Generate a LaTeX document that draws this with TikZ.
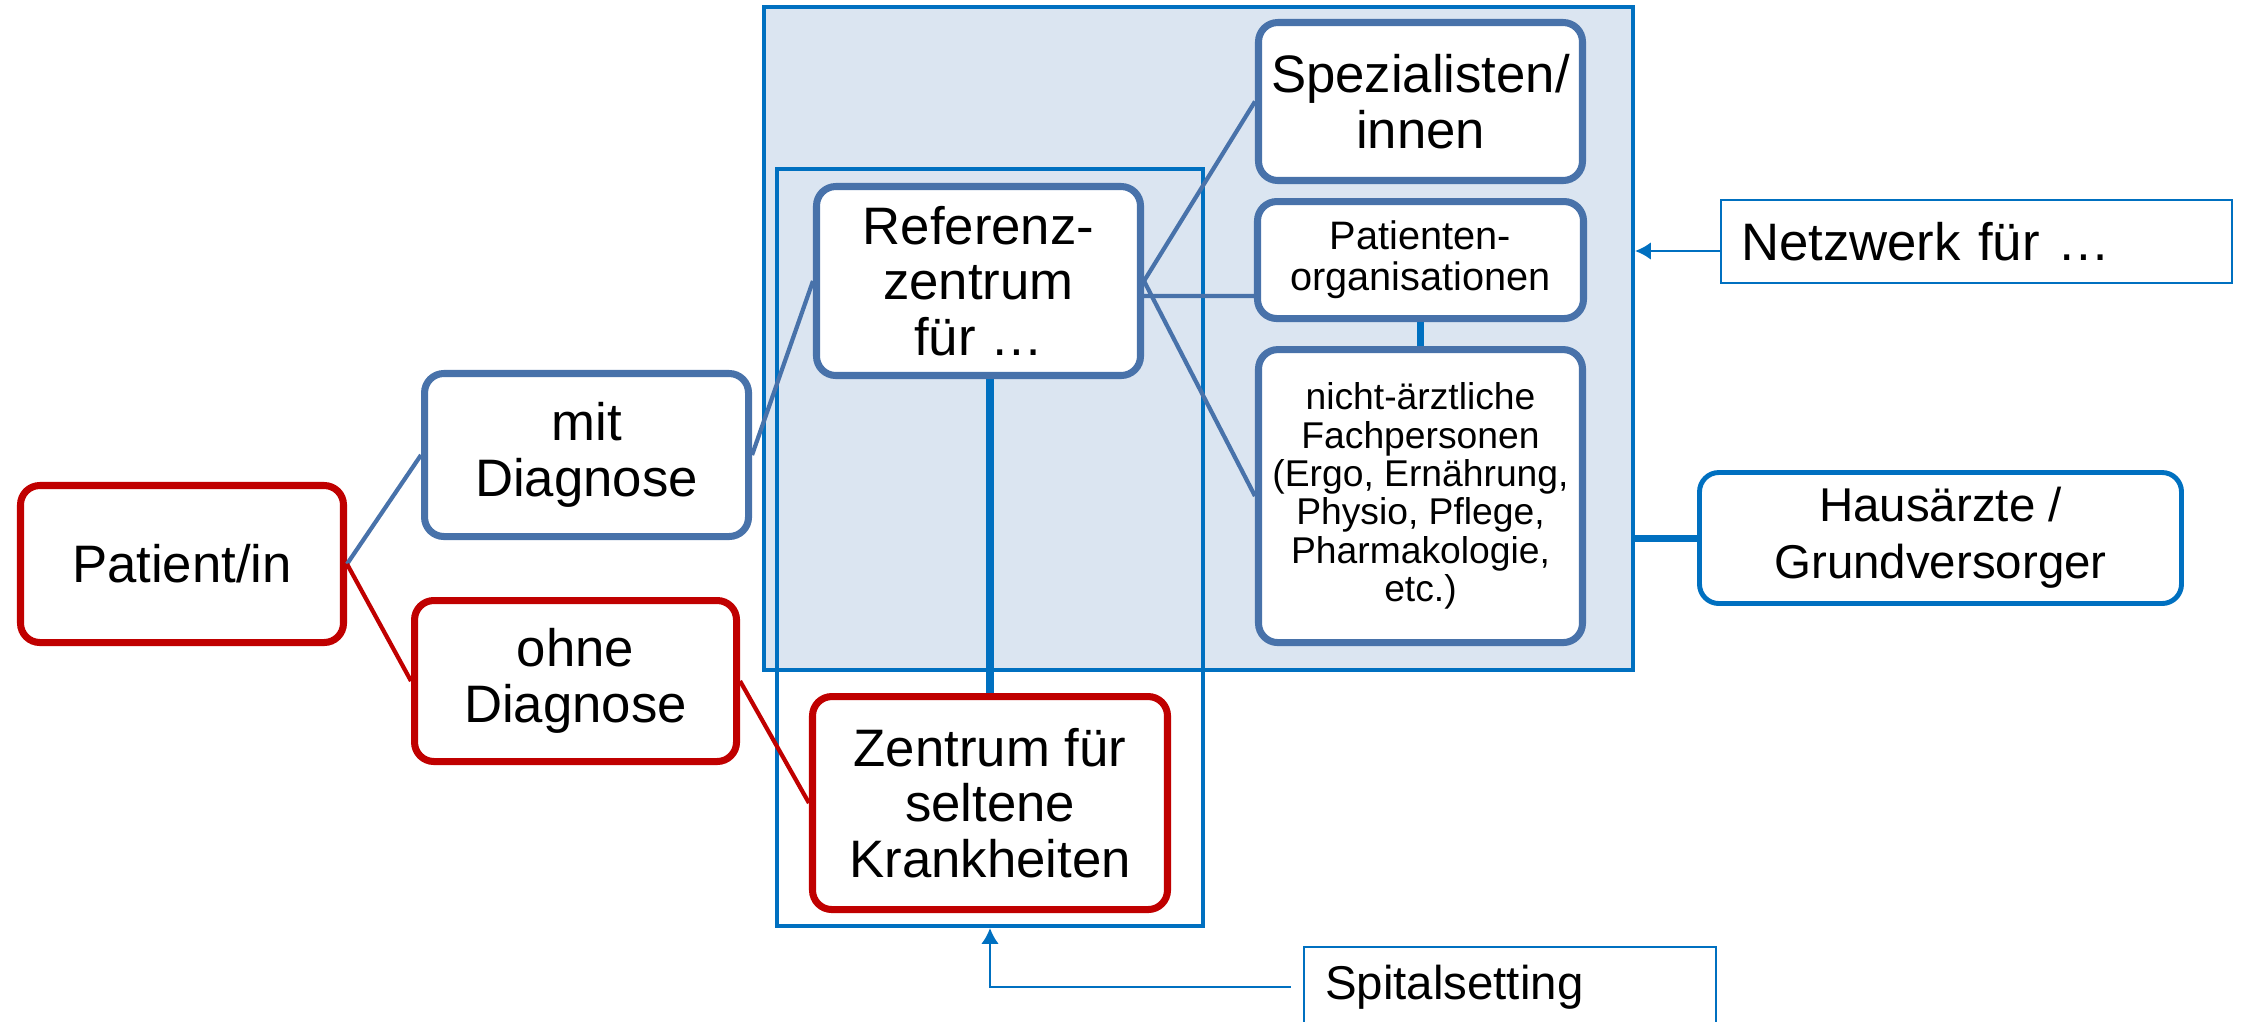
\documentclass[tikz,border=0pt]{standalone}
\usepackage{fontspec}
\setmainfont{Liberation Sans}
\usepackage{tikz}
\usetikzlibrary{arrows.meta,positioning}
\definecolor{rdred}{RGB}{192,0,0}
\definecolor{rdsteel}{RGB}{72,114,170}
\definecolor{rdblue}{RGB}{0,112,192}
\definecolor{rdfill}{RGB}{219,229,241}
\tikzset{
  redbox/.style={draw=rdred, line width=2pt, fill=white, rounded corners=5.5pt, align=center,
    inner sep=1pt, font=\fontsize{15}{15.8}\selectfont},
  steelbox/.style={draw=rdsteel, line width=2pt, fill=white, rounded corners=5.5pt, align=center,
    inner sep=1pt, font=\fontsize{15}{15.8}\selectfont},
  smallbox/.style={steelbox, font=\fontsize{10.6}{10.9}\selectfont},
  gpbox/.style={draw=rdblue, line width=1.4pt, fill=white, rounded corners=5.5pt, align=center,
    inner sep=1pt, font=\fontsize{13.5}{16.2}\selectfont},
  tagbox/.style={draw=rdblue, line width=0.6pt, fill=white, align=left, inner xsep=2mm,
    font=\fontsize{15}{16}\selectfont},
  netframe/.style={draw=rdblue, line width=1.1pt},
  redline/.style={rdred, line width=1.2pt},
  steelline/.style={rdsteel, line width=1.2pt},
  bondline/.style={rdblue, line width=2pt},
  pointarr/.style={-{Latex[length=4.5pt,width=5pt]}, rdblue, line width=0.8pt}
}
\begin{document}
\begin{tikzpicture}
        \clip (0,0) rectangle (22.42,-10.21);

        \node[netframe,fill=rdfill,minimum width=8.69cm,minimum height=6.63cm] (net) at (11.985,-3.385) {};
        \node[netframe,minimum width=4.26cm,minimum height=7.57cm] (spital) at (9.90,-5.475) {};

        \node[redbox,minimum width=3.23cm,minimum height=1.57cm] (pat) at (1.82,-5.64) {Patient/in};
        \node[steelbox,minimum width=3.24cm,minimum height=1.63cm,right=0.74cm of pat,yshift=1.09cm] (mit) {mit\\Diagnose};
        \node[redbox,minimum width=3.22cm,minimum height=1.61cm,right=0.64cm of pat,yshift=-1.17cm] (ohne) {ohne\\Diagnose};

        \node[steelbox,minimum width=3.24cm,minimum height=1.89cm] (ref) at (9.785,-2.81) {Referenz-\\zentrum\\für …};
        \node[redbox,minimum width=3.55cm,minimum height=2.13cm,below=3.14cm of ref,xshift=1.15mm] (zsk) {Zentrum für\\seltene\\Krankheiten};

        \node[steelbox,minimum width=3.24cm,minimum height=1.58cm] (spez) at (14.205,-1.015) {Spezialisten/\\innen};
        \node[steelbox,minimum width=3.26cm,minimum height=1.17cm,below=0.14cm of spez,
          font=\fontsize{11.3}{11.6}\selectfont] (porg) {Patienten-\\organisationen};
        \node[smallbox,minimum width=3.24cm,minimum height=2.93cm,below=0.24cm of porg] (nae)
          {nicht-ärztliche\\Fachpersonen\\(Ergo, Ernährung,\\Physio, Pflege,\\Pharmakologie,\\etc.)};

        \node[gpbox,minimum width=4.82cm,minimum height=1.31cm] (haus) at (19.405,-5.38) {Hausärzte /\\Grundversorger};
        \node[tagbox,minimum width=5.11cm,minimum height=0.83cm,text width=4.71cm] (netz) at (19.765,-2.415) {Netzwerk für …};
        \node[tagbox,minimum width=4.12cm,minimum height=0.8cm,text width=3.7cm,
          font=\fontsize{13.5}{15}\selectfont] (spit) at (15.10,-9.87) {Spitalsetting};

        \draw[steelline] (pat.east) -- (mit.west);
        \draw[redline] (pat.east) -- (ohne.west);
        \draw[redline] (ohne.east) -- (zsk.west);
        \draw[steelline] (mit.east) -- (ref.west);
        \draw[steelline] (ref.east) -- (spez.west);
        \draw[steelline] ([yshift=-1.5mm]ref.east) -- ([yshift=-3.6mm]porg.west);
        \draw[steelline] (ref.east) -- (nae.west);
        \draw[bondline] (zsk.north) -- (zsk.north |- ref.south);
        \draw[bondline] (porg.south) -- (nae.north);
        \draw[bondline] (haus.west) -- (haus.west -| net.east);
        \draw[pointarr] ([yshift=-0.95mm]netz.west) -- ([yshift=-0.95mm]netz.west -| net.east);
        \draw[pointarr,shorten <=1.2mm] (spit.west) -| (spital.south);
      \end{tikzpicture}
\end{document}
